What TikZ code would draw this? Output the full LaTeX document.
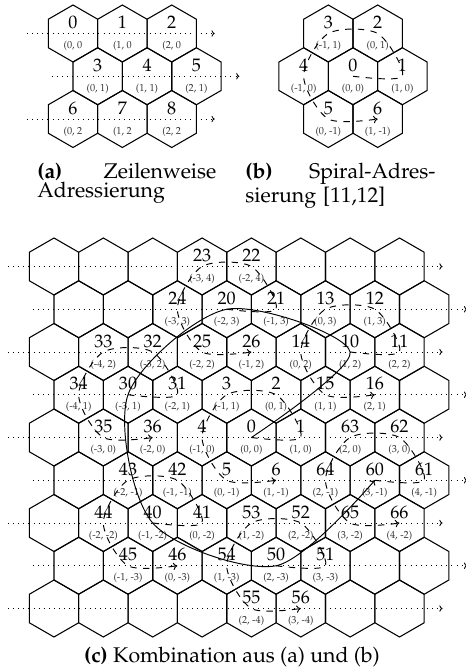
\documentclass[tikz,border=0pt]{standalone}
\usepackage[T1]{fontenc}
\usepackage{palatino}
\usetikzlibrary{arrows.meta,calc}

\newcommand{\hexR}{28.5}   % circumradius (px)
\newcommand{\hexW}{49.36}  % sqrt(3) R
\newcommand{\rowH}{42.75}  % 1.5 R
\newcommand{\hexcell}[1]{%
  \draw[hexline] (#1) +(90:\hexR) -- +(30:\hexR) -- +(-30:\hexR)
    -- +(-90:\hexR) -- +(-150:\hexR) -- +(150:\hexR) -- cycle;}

\begin{document}
\begin{tikzpicture}[x=0.47pt, y=-0.47pt,
  hexline/.style={line width=0.5pt},
  num/.style={font=\fontsize{8.5}{9}\selectfont, inner sep=0pt},
  addr/.style={font=\fontsize{4.8}{5.5}\selectfont, text=black!80, inner sep=0pt},
  rowline/.style={dotted, line width=0.4pt, -{To[length=1.5pt,width=3pt]}},
  spiral/.style={dashed, line width=0.45pt, -{To[length=2pt,width=3.5pt]}},
  chain/.style={line width=0.45pt, -{To[length=2pt,width=3.5pt]}},
  subcap/.style={font=\fontsize{10}{8.5}\selectfont, inner sep=0pt, align=left}
]
  \useasboundingbox (0,0) rectangle (466,671);

  % (a) row by row
  \foreach \row in {0,1,2} {
    \pgfmathsetmacro\sh{mod(\row,2)*\hexW/2}
    \foreach \col in {0,1,2} {
      \pgfmathtruncatemacro\n{3*\row+\col}
      \coordinate (a\n) at (73+\sh+\col*\hexW, 33.5+\row*\rowH);
      \hexcell{a\n}
    }
    \coordinate (ra\row-s) at (73+\sh-46, 33.5+\row*\rowH);
    \coordinate (ra\row-e) at (73+\sh+2*\hexW+43, 33.5+\row*\rowH);
    \draw[rowline] (ra\row-s) -- (ra\row-e);
    \foreach \col in {0,1,2} {
      \pgfmathtruncatemacro\n{3*\row+\col}
      \node[num] (na\n) at ($(a\n)+(0,-11)$) {\n};
      \node[addr] (pa\n) at ($(a\n)+(0,12.5)$) {(\col, \row\ifodd\row)\fi};
    }
  }
  \node[subcap, anchor=base west, text width=84.1pt] (capA) at (37,179)
    {\textbf{(a)}\hfill Zeilenweise\\Adressierung};

  % (b) spiral
  \foreach \k/\du/\dv in {0/0/0,1/1/0,2/0/1,3/-1/1,4/-1/0,5/0/-1,6/1/-1} {
    \coordinate (b\k) at (353+\du*\hexW+\dv*\hexW/2, 76.25-\dv*\rowH);
    \hexcell{b\k}
    \node[num] (nb\k) at ($(b\k)+(0,-11)$) {\k};
    \node[addr] (pb\k) at ($(b\k)+(0,12.5)$) {(\du, \dv)};
  }
  \draw[spiral] plot[smooth] coordinates {(b0) (b1) (b2) (b3) (b4) (b5) (b6)};
  \node[subcap, anchor=base west, text width=89.3pt] (capB) at (245,179)
    {\textbf{(b)}\hfill Spiral-Adres-\\sierung [11,12]};

  % (c) combination
  \foreach \row in {0,...,8} {
    \pgfmathsetmacro\sh{mod(\row,2)*\hexW/2}
    \foreach \col in {0,...,7} {
      \coordinate (g\row-\col) at (54+\sh+\col*\hexW, 266.5+\row*\rowH);
      \hexcell{g\row-\col}
    }
    \coordinate (rc\row-s) at ($(g\row-0)+(-46,0)$);
    \coordinate (rc\row-e) at ($(g\row-7)+(43,0)$);
    \draw[rowline] (rc\row-s) -- (rc\row-e);
  }
  \foreach \g/\gu/\gv in {0/0/0,1/1/2,2/-2/3,3/-3/1,4/-1/-2,5/2/-3,6/3/-1} {
    \foreach \k/\du/\dv in {0/0/0,1/1/0,2/0/1,3/-1/1,4/-1/0,5/0/-1,6/1/-1} {
      \pgfmathtruncatemacro\n{10*\g+\k}
      \pgfmathtruncatemacro\ax{\gu+\du}
      \pgfmathtruncatemacro\ay{\gv+\dv}
      \coordinate (s\g-\k) at (251.4+\ax*\hexW+\ay*\hexW/2, 437.5-\ay*\rowH);
      \node[num] (nc\n) at ($(s\g-\k)+(0,-11)$) {\n};
      \node[addr] (pc\n) at ($(s\g-\k)+(0,12.5)$) {(\ax, \ay)};
    }
    \draw[spiral] plot[smooth] coordinates
      {(s\g-0) (s\g-1) (s\g-2) (s\g-3) (s\g-4) (s\g-5) (s\g-6)};
  }
  \draw[chain] plot[smooth, tension=0.5] coordinates
    {(s0-0) (s1-0) (s2-0) (s3-0) (s4-0) (s5-0) (s6-0)};
  \node[subcap, anchor=base] (capC) at (232,662)
    {\textbf{(c)} Kombination aus (a) und (b)};
\end{tikzpicture}
\end{document}
